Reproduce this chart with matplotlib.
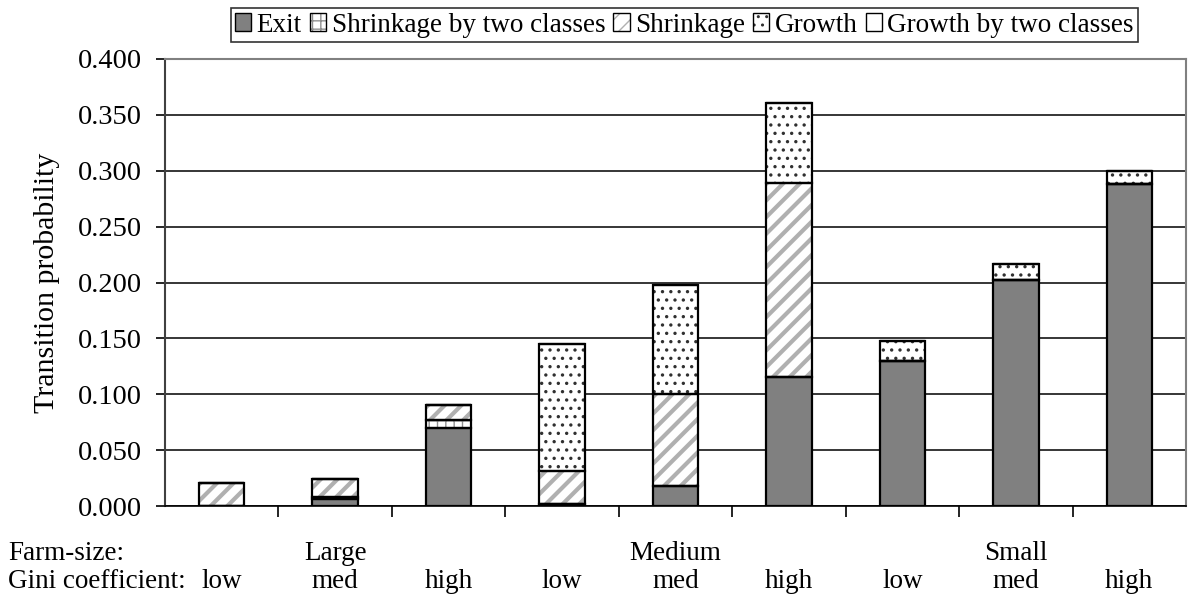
import matplotlib
matplotlib.use("Agg")
import matplotlib.pyplot as plt
import numpy as np
from matplotlib.ticker import FormatStrFormatter
from matplotlib.patches import Patch
from matplotlib.legend_handler import HandlerTuple

farm_sizes = ["Large", "Medium", "Small"]
gini = ["low", "med", "high", "low", "med", "high", "low", "med", "high"]
series_names = ["Exit", "Shrinkage by two classes", "Shrinkage", "Growth", "Growth by two classes"]
exit_ = [0.000, 0.006, 0.070, 0.002, 0.018, 0.115, 0.130, 0.202, 0.288]
shrink2 = [0.000, 0.002, 0.007, 0.000, 0.000, 0.000, 0.000, 0.000, 0.000]
shrink = [0.021, 0.016, 0.013, 0.029, 0.082, 0.174, 0.000, 0.000, 0.000]
growth = [0.000, 0.000, 0.000, 0.114, 0.098, 0.072, 0.018, 0.015, 0.012]
growth2 = [0.000, 0.000, 0.000, 0.000, 0.000, 0.000, 0.000, 0.000, 0.000]

plt.rcParams['font.family'] = ['Liberation Serif', 'DejaVu Serif']

fig = plt.figure(figsize=(11.89, 5.96), dpi=100)
ax = fig.add_axes([165/1189, 90/596, (1186-165)/1189, (506-59)/596])

x = np.arange(len(gini))
w = 0.40
series = [exit_, shrink2, shrink, growth, growth2]
fills = ["#808080", "white", "white", "white", "white"]
hatches = [None, "++", "//", "..", None]
hcolors = ["#808080", "#909090", "#b0b0b0", "#303030", "white"]
hlws = [1.0, 1.0, 3.0, 1.2, 1.0]


def set_hlw(p, lw):
    if hasattr(p, "set_hatch_linewidth"):
        p.set_hatch_linewidth(lw)


bottom = np.zeros(len(x))
handles = []
for vals, fc, h, hc, hlw, name in zip(series, fills, hatches, hcolors, hlws, series_names):
    vals = np.array(vals)
    with plt.rc_context({'hatch.linewidth': hlw}):
        bars = ax.bar(x, vals, w, bottom=bottom, color=fc, hatch=h, edgecolor=hc,
                      linewidth=0, zorder=3)
        for b in bars:
            set_hlw(b, hlw)
        hp = Patch(facecolor=fc, hatch=h, edgecolor=hc, linewidth=0)
        set_hlw(hp, hlw * 0.8)
    ax.bar(x, vals, w, bottom=bottom, fill=False, edgecolor="black", linewidth=1.6, zorder=4)
    bottom += vals
    handles.append((hp, Patch(fill=False, edgecolor="black", linewidth=1.0)))

ax.set_xlim(-0.5, len(x) - 0.5)
ax.set_ylim(0, 0.4)
ax.set_yticks(np.arange(0, 0.401, 0.05))
ax.yaxis.set_major_formatter(FormatStrFormatter('%.3f'))
ax.set_xticks(np.arange(0.5, len(x) - 0.5, 1.0))
ax.set_xticklabels([])
ax.tick_params(axis='x', length=8, width=1.2, direction='out', color='black')
ax.tick_params(axis='y', length=6.5, width=1.2, direction='out', labelsize=20.5, pad=10)
ax.grid(axis='y', color='black', linewidth=1.1, zorder=0)
ax.set_axisbelow(True)
for s in ['top', 'right']:
    ax.spines[s].set_color('#808080')
    ax.spines[s].set_linewidth(1.5)
ax.spines['left'].set_color('#404040')
ax.spines['left'].set_linewidth(1.5)
ax.spines['bottom'].set_color('black')
ax.spines['bottom'].set_linewidth(1.2)

ax.set_ylabel("Transition probability", fontsize=21.5, labelpad=13)

leg = fig.legend(handles, series_names, loc='center', bbox_to_anchor=(684.5/1189, 1 - 25/596),
                 ncol=5, fontsize=19.5, frameon=True, fancybox=False, handlelength=0.6,
                 handleheight=0.6, handletextpad=0.2, columnspacing=0.3, borderpad=0.15,
                 borderaxespad=0, handler_map={tuple: HandlerTuple(ndivide=1, pad=0)})
leg.get_frame().set_edgecolor('black')
leg.get_frame().set_linewidth(1.2)

row1_y = 1 - 553/596
row2_y = 1 - 582/596
fig.text(8/1189, row1_y, "Farm-size:", fontsize=19.5, va='center', ha='left')
fig.text(8/1189, row2_y, "Gini coefficient:", fontsize=19.5, va='center', ha='left')
for i, fs in enumerate(farm_sizes):
    xc = i * 3 + 1
    xd = ax.transData.transform((xc, 0))[0]
    fig.text(xd / fig.bbox.width, row1_y, fs, fontsize=19.5, va='center', ha='center')
for i, g in enumerate(gini):
    xd = ax.transData.transform((i, 0))[0]
    fig.text(xd / fig.bbox.width, row2_y, g, fontsize=19.5, va='center', ha='center')

fig.savefig("out.png", dpi=100)
